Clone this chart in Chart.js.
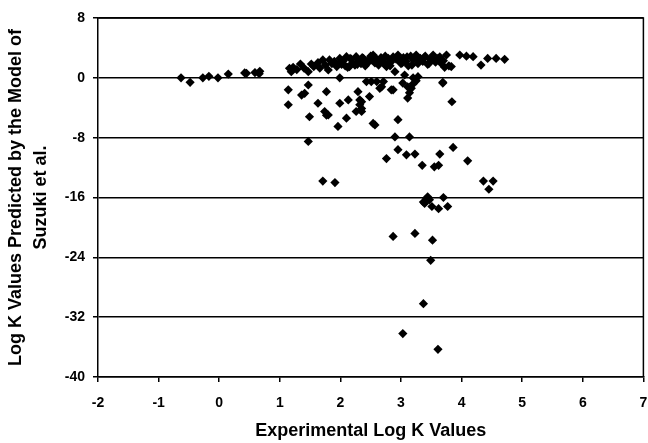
<!DOCTYPE html>
<html>
<head>
<meta charset="utf-8">
<script src="https://cdn.jsdelivr.net/npm/chart.js@4/dist/chart.umd.min.js"></script>
<style>
html,body{margin:0;padding:0;background:#fff;}
#wrap{width:648px;height:443px;}
</style>
</head>
<body>
<div id="wrap"><canvas id="c" width="648" height="443"></canvas></div>
<script>
// Experimental log K (x) and predicted log K (y)
const expLogK = [
 -0.63,-0.48,-0.27,-0.17,-0.02,0.15,0.42,0.45,0.59,0.67,0.66,
 1.14,1.14,1.36,1.41,1.47,1.49,1.63,1.77,1.74,1.80,1.96,1.99,2.10,2.13,2.29,2.32,2.32,2.35,2.26,2.48,2.57,2.65,2.87,2.95,2.90,3.14,2.95,3.09,3.23,3.64,3.86,2.76,4.10,1.47,3.35,3.55,3.62,1.71,1.91,
 3.37,3.44,3.39,3.47,3.51,3.62,3.70,3.77,3.42,
 4.36,4.52,4.45,
 2.87,3.23,3.52,3.49,3.37,3.03,3.61,
 3.84,3.69,1.99,2.43,2.51,2.68,2.71,3.11,3.17,3.20,3.28,3.11,3.06,3.20,3.25,
 2.35,2.35,1.77,2.54,2.60,2.84,3.03,3.14,3.69,
 1.16,1.19,1.22,1.28,1.34,1.40,1.47,1.52,1.56,1.63,1.66,1.71,1.75,
 1.80,1.82,1.86,1.90,1.94,1.99,2.02,2.05,2.10,2.12,2.15,2.18,2.20,2.24,2.26,2.30,
 2.34,2.38,2.41,2.45,2.50,2.54,2.57,2.60,2.63,2.67,2.70,2.73,2.76,2.79,2.83,2.87,2.90,
 2.95,2.97,3.00,3.04,3.08,3.12,3.16,3.20,3.25,3.28,3.32,3.36,3.40,3.44,3.48,3.53,3.57,3.61,3.66,3.70,3.75,3.79,3.83,3.97,4.08,4.19,4.32,4.43,4.57,4.71,
 2.00,2.08,2.16,2.28,2.36,2.44,2.52,2.62,2.74,2.82,2.92,3.02,3.10,3.18,3.30,3.38,3.46,3.55,3.64,3.72
];
const predLogK = [
 0,-0.6,0,0.2,0,0.5,0.65,0.6,0.7,0.87,0.55,
 -1.6,-3.6,-2.3,-2.07,-0.96,-5.2,-3.4,-1.85,-4.5,-4.97,-6.5,-3.4,-5.4,-2.96,-1.85,-2.96,-3.6,-4.5,-4.5,-2.5,-6.3,-1.4,-1.6,-5.6,-7.9,-7.9,-9.6,-10.3,-10.2,-10.2,-9.3,-10.8,-11.1,-8.5,-11.7,-11.9,-11.7,-13.8,-14.0,
 -16.6,-15.9,-16.8,-16.3,-17.2,-17.5,-16.0,-17.2,-16.2,
 -13.8,-13.8,-14.9,
 -21.2,-20.8,-21.7,-24.4,-30.2,-34.2,-36.3,
 -3.2,-0.6,0,-0.5,-0.5,-1.2,-0.5,-1.2,-1.4,0,0.15,-2.7,0.38,-0.8,-0.4,
 -3.2,-4.1,-5.0,-6.1,-0.5,-1.6,-0.7,-2.0,-0.7,
 1.27,0.82,1.4,1.1,1.85,1.3,0.82,1.85,1.5,2.03,1.3,2.39,1.7,
 1.05,2.39,1.9,2.2,1.5,2.6,1.8,2.3,2.83,1.4,1.5,2.5,2.0,1.7,2.83,2.3,
 1.9,2.6,1.6,2.2,2.9,3.05,2.0,2.5,1.7,2.7,2.2,1.8,1.5,2.6,2.1,2.8,0.82,
 3.05,2.3,1.9,2.7,2.2,1.6,2.9,2.4,3.05,1.9,2.6,2.2,2.9,1.8,2.5,3.05,2.1,2.6,1.95,2.3,3.05,1.6,1.5,3.05,2.9,2.83,1.7,2.6,2.6,2.47,
 2.1,1.6,2.6,1.8,2.7,1.9,2.4,2.0,2.9,1.6,2.5,2.0,2.8,1.7,2.3,2.7,1.9,2.4,2.8,1.4
];
const xTicks = [-2,-1,0,1,2,3,4,5,6,7];
const yTicks = [8,0,-8,-16,-24,-32,-40];
const xTitle = 'Experimental Log K Values';
const yTitle = ['Log K Values Predicted by the Model of','Suzuki et al.'];

const points = expLogK.map((x,i)=>({x:x,y:predLogK[i]}));

const borderPlugin = {
  id:'areaBorder',
  afterDraw(chart){
    const {ctx, chartArea:a} = chart;
    ctx.save();
    ctx.strokeStyle='#000';
    ctx.lineWidth=1.5;
    ctx.beginPath();
    ctx.moveTo(a.left, a.top); ctx.lineTo(a.right, a.top); ctx.lineTo(a.right, a.bottom);
    ctx.stroke();
    ctx.restore();
  }
};

const font = {family:'"Liberation Sans", Arial, sans-serif', weight:'bold'};
new Chart(document.getElementById('c'), {
  type:'scatter',
  data:{datasets:[{data:points, pointStyle:'rectRot', pointRadius:4.6, pointHoverRadius:4.6,
    backgroundColor:'#000', borderColor:'#000', borderWidth:0}]},
  options:{
    responsive:false, animation:false, devicePixelRatio:1,
    layout:{padding:{top:18,right:4,left:0,bottom:0}},
    plugins:{legend:{display:false}, tooltip:{enabled:false}},
    scales:{
      x:{type:'linear', min:-2, max:7,
        afterBuildTicks(s){ s.ticks = xTicks.map(v=>({value:v})); },
        afterFit(s){ s.height = 66; s.paddingLeft = 0; s.paddingRight = 0; },
        ticks:{color:'#000', font:{...font, size:14}, padding:13, maxRotation:0},
        grid:{display:true, drawOnChartArea:false, color:'#000', tickLength:5, lineWidth:1.5},
        border:{display:true, color:'#000', width:1.5},
        title:{display:true, text:xTitle, color:'#000', font:{...font, size:18}, padding:{top:4,bottom:1}}
      },
      y:{type:'linear', min:-40, max:8,
        afterBuildTicks(s){ s.ticks = yTicks.map(v=>({value:v})); },
        afterFit(s){ s.width = 98; },
        ticks:{color:'#000', font:{...font, size:14}, padding:8},
        grid:{display:true, color:'#000', tickLength:5, lineWidth:1.5},
        border:{display:true, color:'#000', width:1.5},
        title:{display:true, text:yTitle, color:'#000', font:{...font, size:18, lineHeight:1.4}, padding:{top:3,bottom:0}}
      }
    }
  },
  plugins:[borderPlugin]
});
</script>
</body>
</html>
